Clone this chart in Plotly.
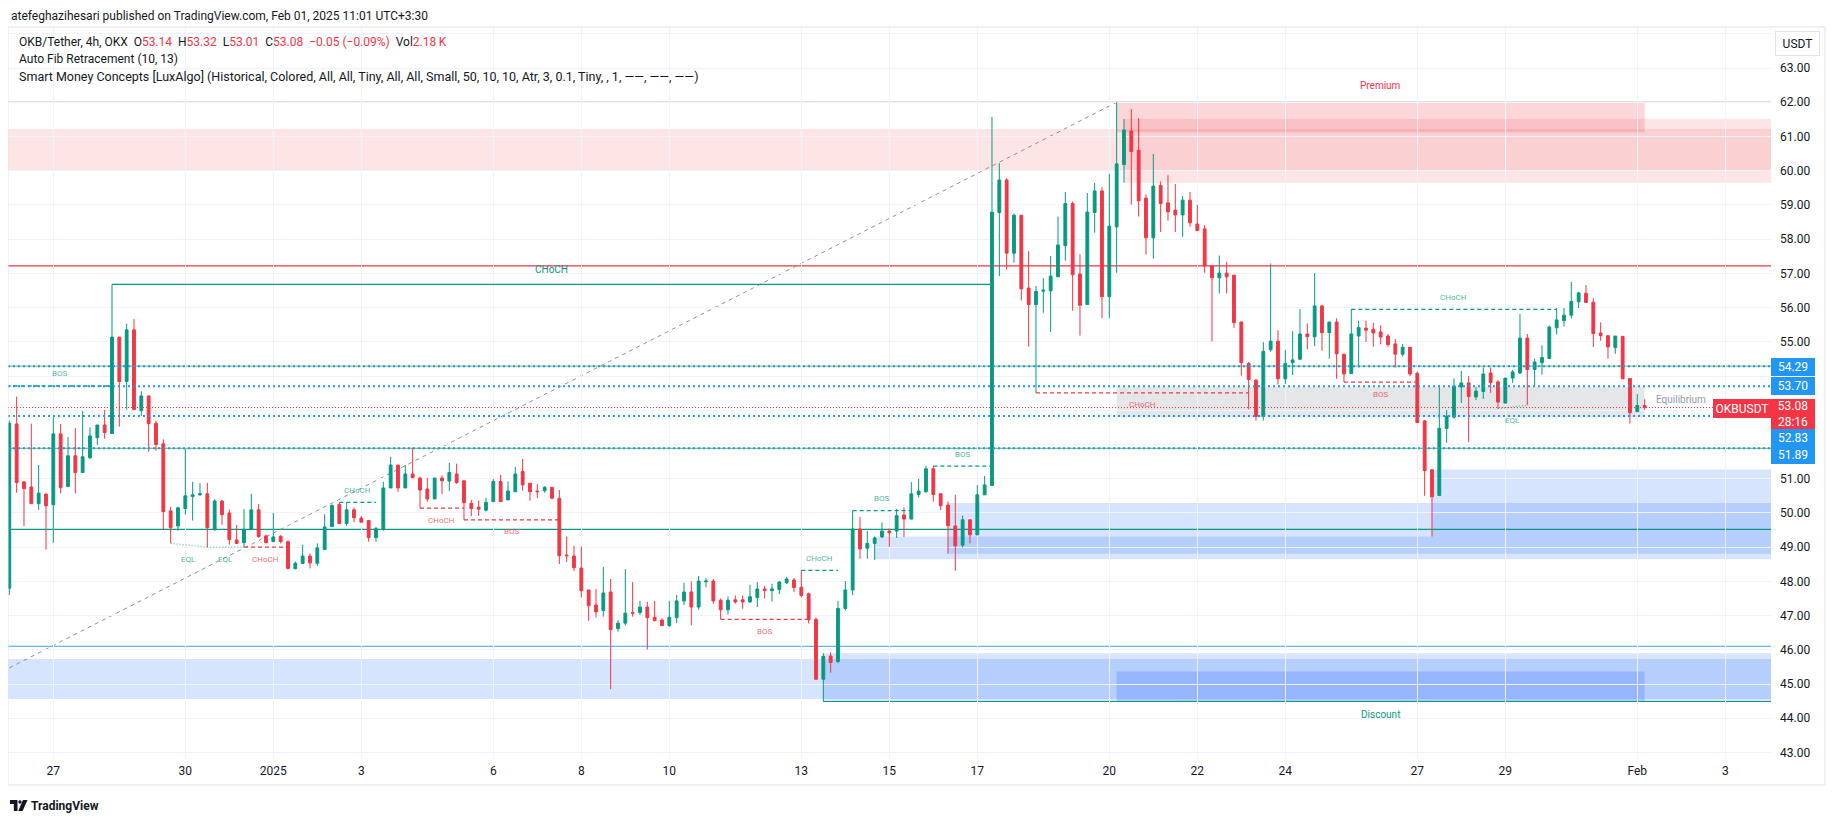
import plotly.graph_objects as go

# ---------------- DATA ----------------
# bar index: 0 = Feb 1 2025 00:00 UTC (4h bars)
BARS = list(range(-222, 2))

OPEN = [
    47.80, 52.60, 50.91, 50.76, 50.27, 50.55, 50.24, 52.31, 50.77, 51.67,
    51.18, 51.61, 52.20, 52.57, 52.32, 55.14, 53.84, 55.35, 52.99, 53.42,
    52.62, 52.02, 50.06, 49.62, 50.13, 50.48, 50.53, 50.56, 49.51, 50.35,
    50.00, 49.21, 49.13, 49.52, 50.09, 49.33, 49.16, 49.32, 49.16, 48.37,
    48.52, 48.74, 48.53, 48.93, 49.60, 50.25, 49.69, 50.09, 49.85, 49.78,
    49.28, 49.52, 50.73, 51.40, 50.73, 51.14, 51.02, 50.70, 50.41, 51.02,
    50.93, 51.14, 50.94, 50.28, 50.17, 50.08, 50.33, 50.92, 50.38, 50.62,
    51.21, 50.87, 50.64, 50.65, 50.75, 50.43, 48.77, 48.74, 48.39, 47.75,
    47.31, 47.15, 47.69, 46.62, 46.78, 47.09, 47.09, 47.25, 46.95, 46.87,
    46.71, 46.94, 47.43, 47.69, 47.25, 47.99, 48.01, 47.45, 47.17, 47.46,
    47.46, 47.40, 47.53, 47.78, 47.73, 47.76, 47.96, 48.04, 47.83, 47.64,
    46.89, 45.14, 45.82, 45.66, 47.21, 47.75, 49.53, 48.97, 49.11, 49.30,
    49.47, 49.47, 49.94, 49.82, 50.54, 50.62, 51.29, 50.56, 50.23, 49.62,
    49.06, 49.80, 49.36, 50.53, 50.80, 58.78, 59.73, 57.59, 58.70, 56.57,
    56.09, 56.48, 56.49, 56.90, 57.81, 59.04, 56.98, 56.09, 58.78, 59.41,
    56.32, 58.36, 60.18, 61.16, 60.60, 59.20, 58.04, 59.57, 59.06, 58.85,
    58.71, 59.14, 58.44, 58.30, 57.22, 56.87, 57.01, 56.95, 55.58, 54.37,
    53.88, 52.82, 54.77, 55.02, 53.92, 54.39, 54.49, 55.23, 55.15, 56.05,
    55.27, 55.58, 54.64, 54.07, 55.17, 55.40, 55.37, 55.29, 55.17, 54.94,
    54.64, 54.84, 54.08, 52.69, 51.26, 50.51, 52.47, 52.80, 53.68, 53.80,
    53.39, 53.55, 54.09, 53.83, 53.21, 53.94, 54.09, 55.11, 54.19, 54.39,
    54.51, 55.41, 55.62, 55.78, 56.17, 56.42, 56.16, 55.26, 55.18, 54.83,
    55.16, 53.93, 52.96, 53.14,
]
HIGH = [
    52.70, 53.40, 50.91, 52.61, 51.40, 50.57, 52.80, 52.60, 52.22, 52.48,
    52.98, 52.50, 52.57, 53.01, 56.68, 55.14, 55.53, 55.67, 53.56, 53.42,
    52.70, 52.15, 50.18, 50.18, 51.89, 50.91, 50.87, 50.88, 50.40, 50.38,
    50.10, 49.65, 50.11, 50.56, 50.26, 49.36, 50.00, 49.35, 49.20, 48.58,
    49.07, 48.82, 49.11, 49.96, 50.25, 50.31, 50.30, 50.16, 49.91, 49.78,
    49.59, 50.91, 51.64, 51.40, 51.40, 51.91, 51.06, 51.02, 51.02, 51.10,
    51.46, 51.44, 50.94, 50.38, 50.36, 50.44, 50.99, 51.11, 50.92, 51.34,
    51.58, 50.87, 50.85, 50.78, 50.75, 50.67, 49.31, 49.04, 49.02, 47.75,
    47.78, 48.42, 48.07, 46.87, 48.36, 47.98, 47.43, 47.40, 47.43, 46.92,
    47.43, 47.60, 47.96, 48.00, 48.16, 48.10, 48.07, 47.50, 47.56, 47.59,
    47.59, 47.90, 47.98, 47.87, 47.93, 48.01, 48.13, 48.10, 48.32, 47.67,
    46.95, 45.90, 45.93, 47.43, 48.01, 50.07, 49.88, 49.47, 49.31, 49.72,
    49.55, 50.12, 50.16, 50.90, 51.00, 51.38, 51.38, 50.56, 50.33, 50.53,
    49.92, 49.80, 50.82, 51.08, 61.57, 60.22, 59.78, 58.75, 58.70, 57.65,
    56.63, 56.86, 57.51, 58.66, 59.38, 59.10, 57.56, 59.35, 59.64, 59.52,
    59.91, 62.00, 61.51, 61.80, 61.54, 59.31, 60.49, 59.69, 59.87, 59.61,
    59.26, 59.38, 59.00, 58.41, 57.22, 57.52, 57.33, 56.95, 55.58, 54.41,
    53.92, 54.99, 57.29, 55.34, 54.76, 55.31, 55.96, 55.54, 57.01, 56.08,
    55.58, 55.69, 54.64, 55.95, 55.62, 55.62, 55.56, 55.48, 55.23, 55.08,
    54.94, 54.84, 54.13, 52.72, 51.28, 53.73, 53.01, 53.93, 54.15, 54.00,
    53.68, 54.25, 54.25, 53.88, 53.94, 54.18, 55.81, 55.23, 54.51, 54.90,
    55.48, 55.99, 55.99, 56.75, 56.46, 56.66, 56.27, 55.57, 55.18, 55.17,
    55.16, 53.93, 53.48, 53.32,
]
LOW = [
    47.60, 50.59, 49.62, 50.27, 50.09, 48.93, 49.13, 50.57, 50.77, 50.57,
    51.18, 51.58, 51.99, 52.17, 52.32, 52.52, 53.02, 53.02, 52.84, 51.79,
    51.82, 49.52, 49.11, 49.48, 49.95, 49.78, 50.50, 49.00, 49.48, 49.65,
    49.07, 49.09, 49.00, 49.52, 49.27, 49.11, 49.16, 49.11, 48.35, 48.35,
    48.52, 48.38, 48.45, 48.93, 49.60, 49.69, 49.62, 49.73, 49.73, 49.16,
    49.16, 49.48, 50.73, 50.62, 50.73, 51.03, 50.14, 50.33, 50.41, 50.55,
    50.64, 50.85, 49.80, 49.91, 49.91, 50.04, 50.33, 50.33, 50.38, 50.62,
    50.65, 50.36, 50.43, 50.59, 50.40, 48.51, 48.57, 48.30, 47.53, 46.85,
    46.94, 46.97, 44.85, 46.53, 46.71, 46.97, 47.02, 46.01, 46.85, 46.69,
    46.67, 46.78, 47.31, 46.71, 47.17, 47.82, 47.35, 46.89, 47.03, 47.35,
    47.20, 47.38, 47.25, 47.50, 47.41, 47.63, 47.92, 47.69, 47.53, 46.77,
    45.14, 44.49, 45.33, 45.61, 47.15, 47.60, 48.66, 48.66, 48.63, 49.27,
    49.01, 49.27, 49.30, 49.82, 50.45, 50.59, 50.33, 50.09, 48.81, 48.31,
    48.99, 49.11, 49.36, 50.53, 50.80, 56.92, 57.11, 57.31, 56.21, 54.86,
    53.51, 55.85, 55.29, 56.90, 57.37, 55.91, 55.18, 56.09, 58.19, 55.69,
    55.69, 57.02, 59.65, 59.01, 58.66, 57.55, 57.43, 58.21, 58.54, 58.21,
    58.07, 58.36, 58.25, 57.02, 55.01, 56.41, 56.41, 55.41, 54.01, 53.03,
    52.70, 52.70, 54.71, 53.75, 53.77, 54.03, 54.49, 54.78, 54.88, 54.74,
    54.51, 53.92, 53.82, 54.07, 54.25, 55.00, 54.86, 54.93, 54.86, 54.25,
    54.57, 54.00, 52.64, 50.50, 49.31, 50.51, 52.05, 52.76, 53.21, 52.07,
    53.30, 53.33, 53.51, 53.05, 53.21, 53.80, 54.06, 53.15, 53.73, 54.04,
    54.51, 55.21, 55.45, 55.68, 55.99, 56.15, 54.85, 55.03, 54.51, 54.65,
    53.92, 52.61, 52.96, 53.01,
]
CLOSE = [
    52.62, 50.89, 50.71, 50.27, 50.58, 50.21, 52.31, 50.74, 51.67, 51.18,
    51.64, 52.25, 52.57, 52.35, 55.14, 53.84, 55.35, 53.02, 53.42, 52.61,
    52.00, 50.04, 49.57, 50.15, 50.50, 50.53, 50.56, 49.57, 50.35, 49.95,
    49.22, 49.11, 49.52, 50.09, 49.31, 49.13, 49.30, 49.16, 48.38, 48.53,
    48.74, 48.54, 48.98, 49.59, 50.22, 49.69, 50.09, 49.86, 49.73, 49.28,
    49.54, 50.73, 51.40, 50.73, 51.14, 51.03, 50.67, 50.41, 51.02, 50.94,
    51.18, 50.89, 50.30, 50.13, 50.11, 50.31, 50.92, 50.33, 50.64, 51.14,
    50.82, 50.62, 50.62, 50.75, 50.43, 48.75, 48.75, 48.40, 47.73, 47.29,
    47.11, 47.66, 46.59, 46.78, 47.07, 47.07, 47.25, 46.94, 46.85, 46.71,
    46.95, 47.43, 47.69, 47.25, 48.01, 48.01, 47.43, 47.17, 47.45, 47.40,
    47.40, 47.55, 47.78, 47.73, 47.78, 47.98, 48.07, 47.82, 47.59, 46.88,
    45.14, 45.81, 45.63, 47.21, 47.75, 49.53, 48.95, 49.11, 49.27, 49.47,
    49.42, 49.92, 49.82, 50.56, 50.64, 51.29, 50.54, 50.21, 49.63, 49.04,
    49.80, 49.36, 50.53, 50.82, 58.79, 59.73, 57.59, 58.70, 56.55, 56.09,
    56.47, 56.51, 56.92, 57.83, 59.04, 56.96, 56.07, 58.79, 59.41, 56.32,
    58.38, 60.20, 61.19, 60.56, 59.12, 58.04, 59.55, 59.04, 58.80, 58.71,
    59.14, 58.48, 58.25, 57.22, 56.87, 57.01, 56.90, 55.56, 54.39, 53.90,
    52.82, 54.72, 55.02, 53.92, 54.37, 54.47, 55.23, 55.15, 56.05, 55.27,
    55.58, 54.65, 54.06, 55.23, 55.42, 55.34, 55.26, 55.14, 54.92, 54.64,
    54.84, 54.06, 52.64, 51.24, 50.47, 52.47, 52.83, 53.71, 53.80, 53.40,
    53.56, 54.06, 53.81, 53.24, 53.94, 54.12, 55.11, 54.19, 54.41, 54.54,
    55.43, 55.64, 55.78, 56.18, 56.43, 56.15, 55.24, 55.18, 54.85, 55.17,
    53.92, 52.93, 53.14, 53.08,
]

DAY_TICK_BARS = [-216, -198, -186, -174, -156, -144, -132, -114, -102, -90,
                 -72, -60, -48, -30, -18, 0, 12]
DAY_TICK_LABELS = ["27", "30", "2025", "3", "6", "8", "10", "13", "15", "17",
                   "20", "22", "24", "27", "29", "Feb", "3"]
PRICE_TICKS = [43, 44, 45, 46, 47, 48, 49, 50, 51, 52, 53, 54, 55, 56, 57, 58,
               59, 60, 61, 62, 63, 64]
# 52-54 are covered by the price tags on the axis, 64 by the currency box
PRICE_TICK_LABELS = ["43.00", "44.00", "45.00", "46.00", "47.00", "48.00",
                     "49.00", "50.00", "51.00", "", "", "",
                     "55.00", "56.00", "57.00", "58.00", "59.00", "60.00",
                     "61.00", "62.00", "63.00", ""]

# Auto Fib levels (0 -> 0.786) and trend line (low -> high)
FIB_LEVELS = [62.00, 57.22, 54.29, 51.89, 49.52, 46.10]
FIB_TREND_BARS = [-256, -71]
FIB_TREND_PRICES = [41.75, 62.00]

# horizontal marked levels (blue dotted)
MARKED_LEVELS = [54.29, 53.70, 52.83, 51.89]
LAST_PRICE = 53.08
LAST_OHLC = ["53.14", "53.32", "53.01", "53.08"]
CHANGE_TEXT = "−0.05 (−0.09%)"
VOLUME_TEXT = "2.18\u2009K"
COUNTDOWN = "28:16"

# Smart Money Concepts structure breaks
BREAK_FROM = [-230, -208, -190, -177, -166, -160, -125, -114, -107, -96, -82, -40, -39]
BREAK_TO = [-208, -88, -184, -172, -160, -147, -113, -109, -99, -88, -53, -30, -11]
BREAK_LEVEL = [53.71, 56.68, 49.00, 50.31, 50.14, 49.80, 46.89, 48.32, 50.07, 51.37, 53.51, 53.82, 55.95]
BREAK_BULL = [True, True, False, True, False, False, False, True, True, True, False, False, True]
BREAK_TAG = ["BOS", "CHoCH", "CHoCH", "CHoCH", "CHoCH", "BOS", "BOS", "CHoCH", "BOS", "BOS", "CHoCH", "BOS", "CHoCH"]
BREAK_SWING = [False, True, False, False, False, False, False, False, False, False, False, False, False]

# equal lows
EQL_FROM = [-200, -195, -19]
EQL_TO = [-195, -190, -15]
EQL_P0 = [49.11, 49.00, 53.05]
EQL_P1 = [49.00, 49.00, 53.15]

# order blocks (bar from, top, bottom) extending to the right edge; None = from left edge
BEAR_OB_FROM = [None, -70]
BEAR_OB_TOP = [61.22, 61.51]
BEAR_OB_BOT = [60.00, 59.65]
BULL_OB_FROM = [None, -111, -104, -94, -28]
BULL_OB_TOP = [45.73, 45.90, 49.31, 50.29, 51.27]
BULL_OB_BOT = [44.56, 44.49, 48.65, 48.81, 49.31]

# premium / equilibrium / discount zones
ZONE_FROM, ZONE_TO = -71, 1
ZONE_TOP, ZONE_BOTTOM = 62.00, 44.49
STRONG_LOW_FROM = -111

# ---------------- STYLE / GEOMETRY ----------------
# reference-pixel geometry; the page body adds an 8px margin, so the figure is
# made smaller and everything is laid out in page pixels.
BODY = 8
PAGE_W, PAGE_H = 1835, 821
W, H = PAGE_W - 2 * BODY, PAGE_H - 2 * BODY
PL, PR, PT, PB = 8, 1771, 27, 759          # pane edges in page pixels
X_MIN, X_MAX = -222.18, 18.23
Y_MIN, Y_MAX = 42.81, 64.20
GREEN = "#089981"
RED = "#f23645"
BLUE = "#2196f3"
TXT = "#131722"
GRID = "#f0f3fa"
FONT = "Roboto"
FIB_COLORS = ["#7f87ab", "#f23645", "#81c784", "#4caf50", "#089981", "#64b5f6"]


def px(x):
    return (x - PL) / (PR - PL)


def py(y):
    return (PB - y) / (PB - PT)


fig = go.Figure()

shapes = []
annotations = []


def hline(y, color, width=1.0, dash="solid", x0=X_MIN, x1=X_MAX, layer="below"):
    shapes.append(dict(type="line", xref="x", yref="y", x0=x0, x1=x1, y0=y, y1=y,
                       line=dict(color=color, width=width, dash=dash), layer=layer))


def box(x0, x1, top, bot, fill):
    shapes.append(dict(type="rect", xref="x", yref="y", x0=x0, x1=x1, y0=bot, y1=top,
                       fillcolor=fill, line=dict(width=0), layer="below"))


# boxes
for f, t, b in zip(BEAR_OB_FROM, BEAR_OB_TOP, BEAR_OB_BOT):
    box(X_MIN if f is None else f, X_MAX, t, b, "rgba(247,124,128,0.20)")
for f, t, b in zip(BULL_OB_FROM, BULL_OB_TOP, BULL_OB_BOT):
    box(X_MIN if f is None else f, X_MAX, t, b, "rgba(49,121,245,0.20)")
prem_bot = 0.95 * ZONE_TOP + 0.05 * ZONE_BOTTOM
eq_top = 0.525 * ZONE_TOP + 0.475 * ZONE_BOTTOM
eq_bot = 0.525 * ZONE_BOTTOM + 0.475 * ZONE_TOP
disc_top = 0.05 * ZONE_TOP + 0.95 * ZONE_BOTTOM
box(ZONE_FROM, ZONE_TO, ZONE_TOP, prem_bot, "rgba(242,54,69,0.20)")
box(ZONE_FROM, ZONE_TO, eq_top, eq_bot, "rgba(135,139,148,0.22)")
box(ZONE_FROM, ZONE_TO, disc_top, ZONE_BOTTOM, "rgba(41,98,255,0.22)")

# fib lines
for lvl, col in zip(FIB_LEVELS, FIB_COLORS):
    hline(lvl, col, 1.2)
shapes.append(dict(type="line", xref="x", yref="y", x0=FIB_TREND_BARS[0], x1=FIB_TREND_BARS[1],
                   y0=FIB_TREND_PRICES[0], y1=FIB_TREND_PRICES[1],
                   line=dict(color="#8f929b", width=1, dash="4px,4px"), layer="below"))
# strong low line
hline(ZONE_BOTTOM, GREEN, 1.2, x0=STRONG_LOW_FROM)

# structure lines + labels
for f, t, lvl, bull, tag_, swing in zip(BREAK_FROM, BREAK_TO, BREAK_LEVEL, BREAK_BULL, BREAK_TAG, BREAK_SWING):
    col = GREEN if bull else RED
    hline(lvl, col, 1.3, "solid" if swing else "4px,3px", x0=f, x1=t, layer="above")
    mid = (max(f, X_MIN) + t) / 2
    annotations.append(dict(x=mid, y=lvl, xref="x", yref="y", text=tag_, showarrow=False,
                            yshift=(15 if swing else 12) if bull else -12,
                            font=dict(family=FONT, size=10 if swing else 8,
                                      color=col if swing else ("rgba(8,153,129,0.75)" if bull else "rgba(242,54,69,0.75)"))))
for f, t, p0, p1 in zip(EQL_FROM, EQL_TO, EQL_P0, EQL_P1):
    shapes.append(dict(type="line", xref="x", yref="y", x0=f, x1=t, y0=p0, y1=p1,
                       line=dict(color="rgba(8,153,129,0.6)", width=1.3, dash="1px,2px"), layer="above"))
    annotations.append(dict(x=(f + t) / 2, y=min(p0, p1), xref="x", yref="y", text="EQL", showarrow=False,
                            yshift=-12, font=dict(family=FONT, size=8, color="rgba(8,153,129,0.75)")))

# blue dotted marked levels + last price
for lvl in MARKED_LEVELS:
    hline(lvl, BLUE, 2, "2px,3px", layer="above")
hline(LAST_PRICE, RED, 1, "1px,2px", layer="above")

# zone labels
zmid = (ZONE_FROM + ZONE_TO) / 2
annotations.append(dict(x=zmid, y=ZONE_TOP, xref="x", yref="y", text="Premium", showarrow=False,
                        yshift=17, font=dict(family=FONT, size=10, color=RED)))
annotations.append(dict(x=zmid, y=ZONE_BOTTOM, xref="x", yref="y", text="Discount", showarrow=False,
                        yshift=-13, font=dict(family=FONT, size=10, color=GREEN)))
annotations.append(dict(x=ZONE_TO + 1.3, y=(eq_top + eq_bot) / 2, xref="x", yref="y", text="Equilibrium",
                        showarrow=False, xanchor="left", yshift=2, font=dict(family=FONT, size=10, color="#9598a1")))

# candles
fig.add_trace(go.Candlestick(
    x=BARS, open=OPEN, high=HIGH, low=LOW, close=CLOSE,
    increasing=dict(line=dict(color=GREEN, width=1), fillcolor=GREEN),
    decreasing=dict(line=dict(color=RED, width=1), fillcolor=RED),
    whiskerwidth=0, hoverinfo="skip", showlegend=False,
))


# price axis tags
def tag(price, text, bg, height=14, width=40, anchor="left"):
    annotations.append(dict(x=1, xref="paper", y=price, yref="y", xanchor=anchor, yanchor="middle",
                            text=text, showarrow=False, bgcolor=bg, width=width, height=height,
                            borderpad=2, borderwidth=0, align="center",
                            font=dict(family=FONT, size=12, color="white")))


tag(54.27, "54.29", BLUE)
tag(53.70, "53.70", BLUE)
tag(52.89, "53.08<br>" + COUNTDOWN, RED, height=26)
tag(53.06, "OKBUSDT", RED, height=15, width=54, anchor="right")
tag(52.18, "52.83", BLUE)
tag(51.69, "51.89", BLUE)

# USDT box
annotations.append(dict(x=px(1797.5), y=py(43.5), xref="paper", yref="paper", text="USDT", showarrow=False,
                        xanchor="center", yanchor="middle",
                        bgcolor="white", bordercolor="#e0e3eb", borderwidth=1, borderpad=1,
                        width=41, height=21, font=dict(family=FONT, size=12, color=TXT)))


# header texts
def htext(x, y, text, size=12.0, color=TXT):
    annotations.append(dict(x=px(x), y=py(y), xref="paper", yref="paper", text=text, showarrow=False,
                            xanchor="left", yanchor="middle", font=dict(family=FONT, size=size, color=color)))


def red(s):
    return "<span style='color:%s'>%s</span>" % (RED, s)


NB = "\u00a0"
htext(9, 16, "atefeghazihesari published on TradingView.com, Feb 01, 2025 11:01 UTC+3:30", 12)
htext(17, 42, "OKB/Tether, 4h, OKX" + NB * 2 + "O" + red(LAST_OHLC[0]) + NB * 2 + "H" + red(LAST_OHLC[1]) + NB * 2
      + "L" + red(LAST_OHLC[2]) + NB * 2 + "C" + red(LAST_OHLC[3]) + NB * 2 + red(CHANGE_TEXT) + NB * 2
      + "Vol" + red(VOLUME_TEXT), 12)
htext(17, 59, "Auto Fib Retracement (10, 13)", 12)
htext(17, 76, "Smart Money Concepts [LuxAlgo] (Historical, Colored, All, All, Tiny, All, All, Small, 50, 10, 10, "
              "Atr, 3, 0.1, Tiny, , 1, ——, ——, ——)", 12.5)


# TradingView logo
def ppath(points):
    d = ""
    for i, (a, b) in enumerate(points):
        d += ("M" if i == 0 else "L") + "%.5f,%.5f " % (px(a), py(b))
    return d + "Z"


shapes.append(dict(type="path", xref="paper", yref="paper",
                   path=ppath([(10, 800), (17.5, 800), (17.5, 811), (13.8, 811), (13.8, 804), (10, 804)]),
                   fillcolor=TXT, line=dict(width=0)))
shapes.append(dict(type="circle", xref="paper", yref="paper", x0=px(18.3), x1=px(21.7), y0=py(803.7), y1=py(800.3),
                   fillcolor=TXT, line=dict(width=0)))
shapes.append(dict(type="path", xref="paper", yref="paper",
                   path=ppath([(23, 800), (27.5, 800), (22.6, 811), (18.2, 811)]),
                   fillcolor=TXT, line=dict(width=0)))
annotations.append(dict(x=px(28.5), y=py(806), xref="paper", yref="paper", text="<b>TradingView</b>",
                        showarrow=False, xanchor="left", yanchor="middle",
                        font=dict(family=FONT, size=12, color=TXT)))

# frame
for (x0, y0, x1, y1) in [(8, 27, 1825, 27), (8, 785, 1825, 785), (8, 27, 8, 785), (1825, 27, 1825, 785)]:
    shapes.append(dict(type="line", xref="paper", yref="paper", x0=px(x0), x1=px(x1), y0=py(y0), y1=py(y1),
                       line=dict(color="#e0e3eb", width=1)))

fig.update_layout(
    width=W, height=H, autosize=False,
    margin=dict(l=PL - BODY, r=W - (PR - BODY), t=PT - BODY, b=H - (PB - BODY), pad=0),
    paper_bgcolor="white", plot_bgcolor="white",
    boxgap=0.45,
    shapes=shapes, annotations=annotations,
    showlegend=False,
    xaxis=dict(range=[X_MIN, X_MAX], tickmode="array", tickvals=DAY_TICK_BARS, ticktext=DAY_TICK_LABELS,
               showgrid=True, gridcolor=GRID, gridwidth=1, zeroline=False, showline=False, ticks="",
               tickfont=dict(family=FONT, size=12, color=TXT), rangeslider=dict(visible=False),
               fixedrange=True, ticklabelstandoff=3),
    yaxis=dict(range=[Y_MIN, Y_MAX], side="right", tickmode="array", tickvals=PRICE_TICKS,
               ticktext=PRICE_TICK_LABELS, showgrid=True, gridcolor=GRID, gridwidth=1, zeroline=False,
               showline=False, ticks="", tickfont=dict(family=FONT, size=12, color=TXT),
               fixedrange=True, ticklabelstandoff=8),
    hovermode=False,
)

fig.write_html("out.html", config={"displayModeBar": False})
